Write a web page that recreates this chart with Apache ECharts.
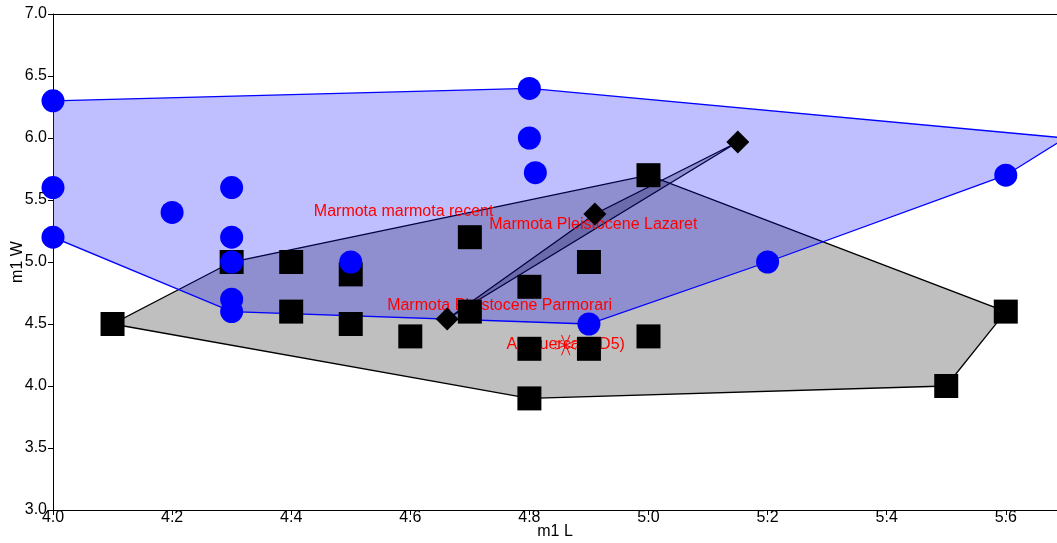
<!DOCTYPE html>
<html>
<head>
<meta charset="utf-8">
<script src="https://cdn.jsdelivr.net/npm/echarts@6/dist/echarts.min.js"></script>
<style>
html,body{margin:0;padding:0;background:#fff;}
#container{width:1057px;height:543px;}
</style>
</head>
<body>
<div id="container"></div>
<script>
// Marmota marmota recent (blue circles)
var recentX = [4.0, 4.0, 4.0, 4.2, 4.3, 4.3, 4.3, 4.3, 4.3, 4.5, 4.8, 4.8, 4.81, 4.9, 5.2, 5.6, 5.7];
var recentY = [6.3, 5.6, 5.2, 5.4, 5.6, 5.2, 5.0, 4.7, 4.6, 5.0, 6.4, 6.0, 5.72, 4.5, 5.0, 5.7, 6.0];
// Marmota Pleistocene Parmorari (black squares)
var parmoX = [4.1, 4.3, 4.4, 4.4, 4.5, 4.5, 4.6, 4.7, 4.7, 4.8, 4.8, 4.8, 4.9, 4.9, 5.0, 5.0, 5.5, 5.6];
var parmoY = [4.5, 5.0, 5.0, 4.6, 4.9, 4.5, 4.4, 5.2, 4.6, 4.8, 4.3, 3.9, 5.0, 4.3, 5.7, 4.4, 4.0, 4.6];
// Marmota Pleistocene Lazaret (black diamonds)
var lazX = [4.662, 4.91, 5.15];
var lazY = [4.54, 5.387, 5.968];
// Atapuerca (TD5)
var ataX = [4.861];
var ataY = [4.33];

var groupNames = ['Marmota marmota recent', 'Marmota Pleistocene Parmorari', 'Marmota Pleistocene Lazaret', 'Atapuerca (TD5)'];
var yTicks = ['3.0', '3.5', '4.0', '4.5', '5.0', '5.5', '6.0', '6.5', '7.0'];

function pairs(xs, ys){
    var out = [];
    for(var i=0;i<xs.length;i++){
        out.push([xs[i], ys[i]]);
    }
    return out;
}

// convex hull (monotone chain)
function hull(pts){
    var p = pts.slice().sort(function(a,b){ return a[0]-b[0] || a[1]-b[1]; });
    function cross(o,a,b){ return (a[0]-o[0])*(b[1]-o[1]) - (a[1]-o[1])*(b[0]-o[0]); }
    var lower = [], upper = [];
    for(var i=0;i<p.length;i++){
        while(lower.length>=2 && cross(lower[lower.length-2], lower[lower.length-1], p[i])<=0) lower.pop();
        lower.push(p[i]);
    }
    for(var j=p.length-1;j>=0;j--){
        while(upper.length>=2 && cross(upper[upper.length-2], upper[upper.length-1], p[j])<=0) upper.pop();
        upper.push(p[j]);
    }
    upper.pop(); lower.pop();
    return lower.concat(upper);
}

function centroid(xs, ys){
    var sx = 0, sy = 0;
    for(var i=0;i<xs.length;i++){ sx += xs[i]; sy += ys[i]; }
    return [sx/xs.length, sy/ys.length];
}

function polySeries(pts, fill, stroke){
    var h = hull(pts);
    return {
        type: 'custom',
        silent: true,
        clip: true,
        data: [0],
        renderItem: function(params, api){
            var coords = [];
            for(var i=0;i<h.length;i++){
                coords.push(api.coord(h[i]));
            }
            return {
                type: 'polygon',
                shape: { points: coords },
                style: { fill: fill, stroke: stroke, lineWidth: 1.3 }
            };
        }
    };
}

var recent = pairs(recentX, recentY);
var parmo = pairs(parmoX, parmoY);
var laz = pairs(lazX, lazY);
var ata = pairs(ataX, ataY);

var labelData = [
    centroid(recentX, recentY).concat([groupNames[0]]),
    centroid(parmoX, parmoY).concat([groupNames[1]]),
    centroid(lazX, lazY).concat([groupNames[2]]),
    [ataX[0], ataY[0], groupNames[3]]
];

var font = '"Liberation Sans", Arial, sans-serif';

var dom = document.getElementById("container");
var myChart = echarts.init(dom);
var option = {
    animation: false,
    backgroundColor: '#fff',
    grid: { left: 53, top: 14, right: 0, bottom: 33, outerBoundsMode: 'none', containLabel: false },
    xAxis: [{
        type: 'value',
        min: 4.0,
        max: 5.686,
        interval: 0.2,
        name: 'm1 L',
        nameLocation: 'middle',
        nameGap: 14,
        nameMoveOverlap: false,
        nameTextStyle: { color: '#000', fontSize: 16, fontFamily: font },
        axisLine: { lineStyle: { color: '#000', width: 1 } },
        axisTick: { show: true, length: 5, inside: false, lineStyle: { color: '#000' } },
        axisLabel: {
            color: '#000', fontSize: 16, fontFamily: font, margin: 0,
            showMaxLabel: false,
            formatter: function(v){ return v.toFixed(1); }
        },
        splitLine: { show: false }
    }, {
        type: 'value',
        position: 'top',
        min: 4.0,
        max: 5.686,
        axisLine: { show: true, lineStyle: { color: '#000', width: 1 } },
        axisTick: { show: false },
        axisLabel: { show: false },
        splitLine: { show: false }
    }],
    yAxis: {
        type: 'value',
        min: 3.0,
        max: 7.0,
        interval: 0.5,
        name: 'm1 W',
        nameLocation: 'middle',
        nameGap: 27,
        nameMoveOverlap: false,
        nameTextStyle: { color: '#000', fontSize: 16, fontFamily: font },
        axisLine: { show: true, lineStyle: { color: '#000', width: 1 } },
        axisTick: { show: true, length: 5, lineStyle: { color: '#000' } },
        axisLabel: {
            color: '#000', fontSize: 16, fontFamily: font, margin: 6,
            formatter: function(v){ return yTicks[Math.round((v-3)/0.5)]; }
        },
        splitLine: { show: false }
    },
    series: [
        polySeries(parmo, 'rgba(0,0,0,0.25)', '#000'),
        polySeries(laz, 'rgba(0,0,0,0.25)', '#000'),
        polySeries(recent, 'rgba(0,0,255,0.25)', '#0000ff'),
        {
            name: groupNames[1],
            type: 'scatter',
            symbol: 'rect',
            symbolSize: 24,
            itemStyle: { color: '#000', opacity: 1 },
            data: parmo
        },
        {
            name: groupNames[2],
            type: 'scatter',
            symbol: 'diamond',
            symbolSize: 23,
            itemStyle: { color: '#000', opacity: 1 },
            data: laz
        },
        {
            name: groupNames[0],
            type: 'scatter',
            symbol: 'circle',
            symbolSize: 23,
            itemStyle: { color: '#0000ff', opacity: 1 },
            data: recent
        },
        {
            // asterisk marker
            name: groupNames[3],
            type: 'custom',
            silent: true,
            data: ata,
            renderItem: function(params, api){
                var c = api.coord([api.value(0), api.value(1)]);
                var r = 11;
                var kids = [];
                for(var k=0;k<4;k++){
                    var a = k*Math.PI/4 + Math.PI/8;
                    kids.push({
                        type: 'line',
                        shape: { x1: c[0]-r*Math.cos(a), y1: c[1]-r*Math.sin(a), x2: c[0]+r*Math.cos(a), y2: c[1]+r*Math.sin(a) },
                        style: { stroke: '#ff0000', lineWidth: 1 }
                    });
                }
                return { type: 'group', children: kids };
            }
        },
        {
            type: 'custom',
            silent: true,
            clip: false,
            data: labelData,
            renderItem: function(params, api){
                var c = api.coord([api.value(0), api.value(1)]);
                return {
                    type: 'text',
                    x: c[0],
                    y: c[1],
                    style: {
                        text: labelData[params.dataIndex][2],
                        fill: '#ff0000',
                        font: '16px ' + font,
                        align: 'center',
                        verticalAlign: 'middle'
                    }
                };
            }
        }
    ]
};
if (option && typeof option === "object") {
    myChart.setOption(option, true);
}
</script>
</body>
</html>
